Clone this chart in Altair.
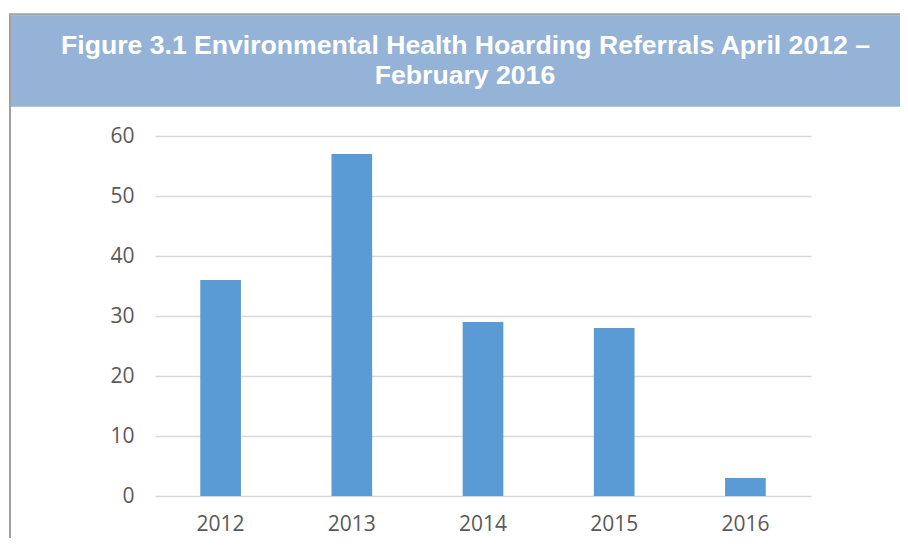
import altair as alt
import pandas as pd

years = ["2012", "2013", "2014", "2015", "2016"]
referrals = [36, 57, 29, 28, 3]
y_ticks = [0, 10, 20, 30, 40, 50, 60]
title_line1 = "Figure 3.1 Environmental Health Hoarding Referrals April 2012 –"
title_line2 = "February 2016"

df = pd.DataFrame({"year": years, "referrals": referrals})
one = pd.DataFrame({"k": [0]})

W, H = 656, 360
PAD_L, PAD_T = 147, 128
TOTAL_W, TOTAL_H = 892, 530

bars = alt.Chart(df).mark_bar(color="#5B9BD5").encode(
    x=alt.X("year:N", sort=years, title=None,
            scale=alt.Scale(paddingInner=0.69, paddingOuter=0.345),
            axis=alt.Axis(labelAngle=0, domain=False, ticks=False, labelPadding=17,
                          labelFont="Open Sans", labelFontSize=21, labelColor="#595959")),
    y=alt.Y("referrals:Q", title=None,
            scale=alt.Scale(domain=[0, 60], nice=False),
            axis=alt.Axis(values=y_ticks, domain=False, ticks=False, labelPadding=21,
                          labelFont="Open Sans", labelFontSize=21, labelColor="#595959",
                          gridColor="#D9D9D9", gridWidth=1.5)),
)

banner = alt.Chart(one).mark_rect(color="#95B3D7").encode(
    x=alt.value(-144), x2=alt.value(TOTAL_W - PAD_L + 5),
    y=alt.value(-120.7), y2=alt.value(-29.3),
)
border_left = alt.Chart(one).mark_rule(color="#A0A0A0", strokeWidth=2).encode(
    x=alt.value(-145), y=alt.value(-121.7), y2=alt.value(TOTAL_H - PAD_T + 10),
)
border_top = alt.Chart(one).mark_rule(color="#A0A0A0", strokeWidth=2).encode(
    x=alt.value(-146), x2=alt.value(TOTAL_W - PAD_L + 5), y=alt.value(-121.7),
)
t1 = alt.Chart(one).mark_text(font="Liberation Sans", fontWeight="bold", fontSize=26.6,
                               color="white", align="center", baseline="alphabetic").encode(
    x=alt.value(310.5), y=alt.value(-81.7), text=alt.value(title_line1))
t2 = alt.Chart(one).mark_text(font="Liberation Sans", fontWeight="bold", fontSize=26.6,
                               color="white", align="center", baseline="alphabetic").encode(
    x=alt.value(310), y=alt.value(-51.7), text=alt.value(title_line2))

chart = alt.layer(banner, border_left, border_top, bars, t1, t2).properties(
    width=W, height=H,
    autosize=alt.AutoSizeParams(type="none"),
    padding={"left": PAD_L, "top": PAD_T, "right": TOTAL_W - PAD_L - W, "bottom": TOTAL_H - PAD_T - H},
    background="white",
).configure_view(stroke=None)

chart.save("out.html", embed_options={"renderer": "svg", "actions": False})
